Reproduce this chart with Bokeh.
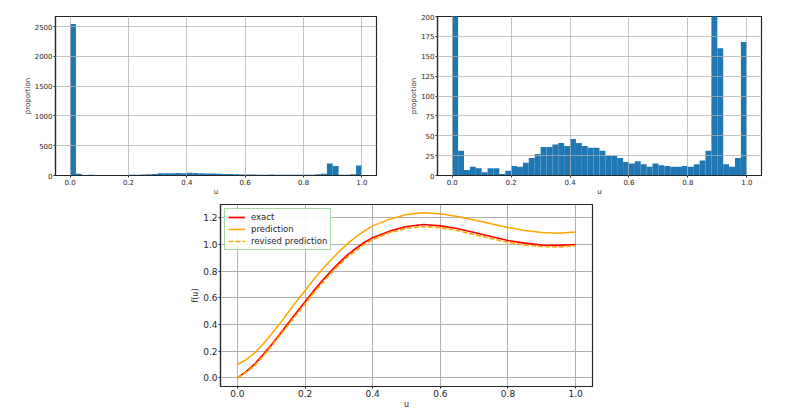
from bokeh.plotting import figure
from bokeh.layouts import column, row, Spacer
from bokeh.models import FixedTicker, NumeralTickFormatter, Range1d, Legend, LegendItem
from bokeh.embed import file_html
from bokeh.resources import INLINE

# ---- data ----
bin_edges = [i / 50 for i in range(51)]
counts = [2545, 31, 7, 11, 9, 4, 9, 9, 2, 6,
          12, 11, 16, 22, 27, 36, 36, 39, 41, 37,
          46, 41, 37, 35, 35, 31, 25, 25, 22, 17,
          15, 18, 14, 11, 15, 13, 12, 11, 11, 12,
          11, 14, 19, 31, 203, 160, 14, 11, 22, 168]

u_vals = [0.0, 0.025, 0.05, 0.075, 0.1, 0.125, 0.15, 0.175, 0.2, 0.225, 0.25,
          0.275, 0.3, 0.325, 0.35, 0.375, 0.4, 0.45, 0.5, 0.55, 0.6,
          0.65, 0.7, 0.75, 0.8, 0.85, 0.9, 0.95, 1.0]
exact = [0.0, 0.045, 0.10, 0.17, 0.245, 0.325, 0.41, 0.49, 0.57, 0.65, 0.725,
         0.795, 0.86, 0.92, 0.97, 1.015, 1.05, 1.10, 1.135, 1.15, 1.14,
         1.12, 1.09, 1.06, 1.03, 1.01, 0.996, 0.993, 1.0]
prediction = [0.10, 0.135, 0.185, 0.25, 0.325, 0.405, 0.49, 0.575, 0.655, 0.735, 0.81,
              0.88, 0.945, 1.005, 1.055, 1.10, 1.14, 1.19, 1.225, 1.238, 1.23,
              1.21, 1.183, 1.155, 1.127, 1.105, 1.09, 1.084, 1.093]
revised = [0.0, 0.04, 0.09, 0.16, 0.235, 0.315, 0.395, 0.475, 0.555, 0.635, 0.71,
           0.78, 0.845, 0.905, 0.955, 1.0, 1.037, 1.09, 1.122, 1.135, 1.127,
           1.105, 1.075, 1.045, 1.017, 0.997, 0.985, 0.982, 0.99]

x_ticks = [0.0, 0.2, 0.4, 0.6, 0.8, 1.0]
left_y_ticks = [0, 500, 1000, 1500, 2000, 2500]
right_y_ticks = [0, 25, 50, 75, 100, 125, 150, 175, 200]
f_ticks = [0.0, 0.2, 0.4, 0.6, 0.8, 1.0, 1.2]

FONT = "DejaVu Sans"
BAR = "#1f77b4"


def style(p, fs, yfmt, xt, yt, xlabel, ylabel, lfs):
    p.xaxis.ticker = FixedTicker(ticks=xt)
    p.yaxis.ticker = FixedTicker(ticks=yt)
    p.xaxis.formatter = NumeralTickFormatter(format="0.0")
    p.yaxis.formatter = NumeralTickFormatter(format=yfmt)
    p.xaxis.axis_label = xlabel
    p.yaxis.axis_label = ylabel
    for ax in (p.xaxis[0], p.yaxis[0]):
        ax.major_label_text_font = FONT
        ax.major_label_text_font_size = fs
        ax.major_label_text_color = "#262626"
        ax.axis_label_text_font = FONT
        ax.axis_label_text_font_size = lfs
        ax.axis_label_text_font_style = "normal"
        ax.axis_label_text_color = "#262626"
        ax.axis_label_standoff = 0
        ax.major_label_standoff = 1
        ax.major_tick_in = 0
        ax.major_tick_out = 2
        ax.major_tick_line_color = "#262626"
        ax.minor_tick_line_color = None
        ax.axis_line_color = "#262626"
        ax.axis_line_width = 1.2
    p.outline_line_color = "#262626"
    p.outline_line_width = 1.2
    p.grid.grid_line_color = "#b0b0b0"
    p.grid.grid_line_width = 1
    p.background_fill_color = "white"
    p.border_fill_color = "white"


# ---- top-left histogram ----
p1 = figure(width=393, height=198, x_range=Range1d(-0.05, 1.05), y_range=Range1d(0, 2672),
            output_backend="svg", toolbar_location=None,
            min_border_left=55, min_border_right=17, min_border_top=16, min_border_bottom=22)
p1.quad(left=bin_edges[:-1], right=bin_edges[1:], top=counts, bottom=0,
        fill_color=BAR, line_color=None)
style(p1, "7px", "0", x_ticks, left_y_ticks, "u", "proportion", "7px")
p1.grid.level = "overlay"
p1.grid.grid_line_alpha = 0.75

# ---- top-right histogram (zoomed) ----
p2 = figure(width=378, height=198, x_range=Range1d(-0.05, 1.05), y_range=Range1d(0, 200),
            output_backend="svg", toolbar_location=None,
            min_border_left=44, min_border_right=10, min_border_top=16, min_border_bottom=22)
p2.quad(left=bin_edges[:-1], right=bin_edges[1:], top=counts, bottom=0,
        fill_color=BAR, line_color=None)
style(p2, "7px", "0", x_ticks, right_y_ticks, "u", "proportion", "7px")
p2.grid.level = "overlay"
p2.grid.grid_line_alpha = 0.75

# ---- bottom: function curves ----
p3 = figure(width=414, height=213, x_range=Range1d(-0.05, 1.05), y_range=Range1d(-0.065, 1.30),
            output_backend="svg", toolbar_location=None,
            min_border_left=32, min_border_right=10, min_border_top=6, min_border_bottom=20)
style(p3, "9px", "0.0", x_ticks, f_ticks, "u", "f(u)", "8px")
r1 = p3.line(u_vals, exact, line_color="red", line_width=1.7)
r2 = p3.line(u_vals, prediction, line_color="orange", line_width=1.5)
r3 = p3.line(u_vals, revised, line_color="orange", line_width=1.7, line_dash="5 2")

legend = Legend(items=[LegendItem(label="exact", renderers=[r1]),
                       LegendItem(label="prediction", renderers=[r2]),
                       LegendItem(label="revised prediction", renderers=[r3])],
                location="top_left")
legend.label_text_font = FONT
legend.label_text_font_size = "8.5px"
legend.label_text_color = "#262626"
legend.glyph_width = 17
legend.glyph_height = 10
legend.label_height = 10
legend.spacing = 2
legend.padding = 3
legend.margin = 4
legend.label_standoff = 6
legend.border_line_color = "#4daf4a"
legend.border_line_width = 1
legend.background_fill_alpha = 0.9
p3.add_layout(legend)

layout = column(row(p1, p2), row(Spacer(width=188, height=10), p3))

open("out.html", "w").write(file_html(layout, INLINE))
